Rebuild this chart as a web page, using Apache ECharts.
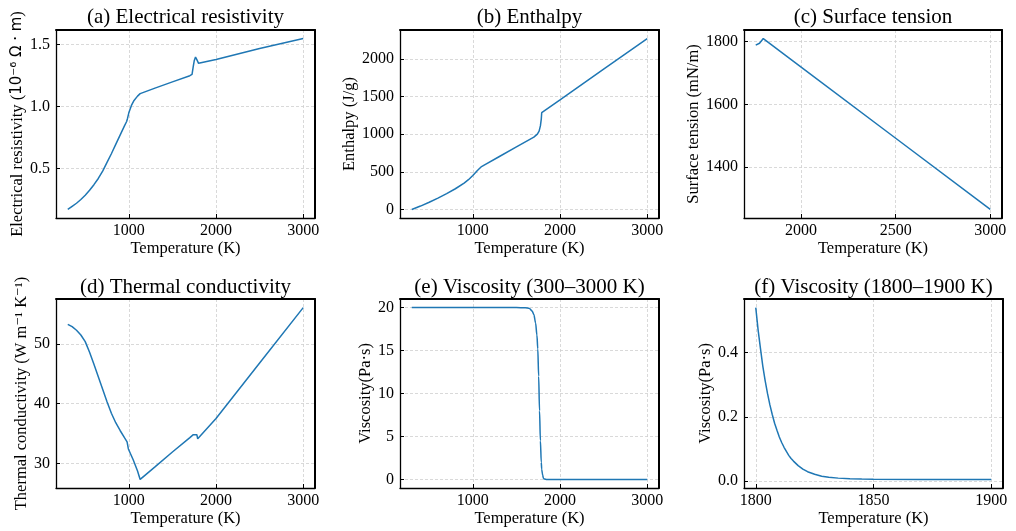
<!DOCTYPE html>
<html><head><meta charset="utf-8">
<script src="https://cdn.jsdelivr.net/npm/echarts@6/dist/echarts.min.js"></script>
<style>html,body{margin:0;padding:0;background:#fff}#c{width:1016px;height:531px}</style>
</head><body><div id="c"></div>
<script>
// (a) Electrical resistivity
const resT = [300,350,400,450,500,550,600,650,700,750,800,850,900,950,975,985,1000,1030,1060,1100,1130,1300,1500,1700,1725,1740,1750,1765,1780,1800,2000,2500,3000];
const resV = [0.17,0.195,0.22,0.25,0.285,0.325,0.37,0.42,0.48,0.55,0.62,0.695,0.77,0.845,0.88,0.905,0.95,1.01,1.05,1.085,1.105,1.15,1.20,1.25,1.26,1.33,1.37,1.40,1.38,1.35,1.38,1.47,1.55];
// (b) Enthalpy
const entT = [300,400,500,600,700,800,900,950,1000,1050,1100,1130,1300,1500,1700,1720,1740,1760,1775,1785,1790,1800,2000,2500,3000];
const entV = [0,45,95,150,210,275,350,395,450,515,570,590,700,830,960,975,1000,1040,1110,1200,1285,1292,1455,1865,2270];
// (c) Surface tension
const stT = [1760,1770,1780,1790,1800,2000,2500,3000];
const stV = [1789,1791,1795,1801,1810,1719,1492,1265];
// (d) Thermal conductivity
const kT = [300,350,400,450,500,550,600,650,700,750,800,850,900,950,980,990,995,1000,1050,1100,1130,1300,1500,1700,1740,1760,1780,1790,1800,1810,2000,2500,3000];
const kV = [53.3,52.9,52.3,51.5,50.4,48.6,46.6,44.5,42.4,40.3,38.4,36.8,35.5,34.3,33.6,33.3,32.4,32.1,30.6,28.7,27.3,29.4,31.9,34.3,34.8,35.0,34.8,34.1,33.8,34.0,37.5,46.8,56.1];
// (e) Viscosity 300-3000 K
const viscT = [300,1000,1500,1600,1650,1680,1700,1720,1735,1745,1755,1765,1775,1785,1790,1800,1810,1820,1850,2000,3000];
const viscV = [20,20,20,19.98,19.9,19.6,19.2,18.2,16.8,15.2,12.0,8.0,4.5,2.0,1.2,0.54,0.13,0.05,0.006,0.005,0.005];
// (f) Viscosity 1800-1900 K
const fT = [1800,1801,1802,1803,1804,1805,1806,1807,1808,1809,1810,1811,1812,1813,1814,1815,1816,1818,1820,1822,1825,1828,1831,1835,1840,1845,1850,1870,1900];
const fV = [0.540,0.470,0.412,0.357,0.312,0.272,0.237,0.207,0.180,0.158,0.137,0.120,0.105,0.092,0.080,0.070,0.062,0.048,0.037,0.029,0.021,0.015,0.012,0.009,0.007,0.006,0.0055,0.005,0.005];

const titles = ['(a) Electrical resistivity','(b) Enthalpy','(c) Surface tension','(d) Thermal conductivity','(e) Viscosity (300\u20133000 K)','(f) Viscosity (1800\u20131900 K)'];
const xTicks = [[1000,2000,3000],[1000,2000,3000],[2000,2500,3000],[1000,2000,3000],[1000,2000,3000],[1800,1850,1900]];
const yTicks = [[0.5,1.0,1.5],[0,500,1000,1500,2000],[1400,1600,1800],[30,40,50],[0,5,10,15,20],[0.0,0.2,0.4]];
const xName = 'Temperature (K)';
const yNames = [
  '{s|Electrical resistivity (}{m|10\u207B\u2076 \u03A9 \u00B7 m}{s|)}',
  'Enthalpy (J/g)',
  'Surface tension (mN/m)',
  'Thermal conductivity (W m\u207B\u00B9 K\u207B\u00B9)',
  'Viscosity(Pa\u00B7s)',
  'Viscosity(Pa\u00B7s)'
];

const series = [[resT,resV],[entT,entV],[stT,stV],[kT,kV],[viscT,viscV],[fT,fV]];
const boxes = [[56,30,259,188],[400,30,259,188],[744,30,258,188],[56,299,259,189],[400,299,259,189],[744,299,259,189]];
const yGaps = [30,42,42,25,25,30];
const yDec = [1,0,0,0,0,1];
const smoothFlags = [false,false,false,false,true,false];
const titleY = [17,17,17,287,287,287];

const SERIF = '"Liberation Serif","DejaVu Serif",serif';
function rng(a){const lo=Math.min(...a),hi=Math.max(...a),d=(hi-lo)*0.05;return [lo-d,hi+d];}

const grid=[],xAxis=[],yAxis=[],ser=[],graphic=[];
for(let i=0;i<6;i++){
  const [L,T,W,H]=boxes[i];
  grid.push({left:L,top:T,width:W,height:H,containLabel:false});
  const xr=rng(series[i][0]), yr=rng(series[i][1]);
  const dec=yDec[i];
  xAxis.push({type:'value',gridIndex:i,min:xr[0],max:xr[1],
    name:xName,nameLocation:'middle',nameGap:21,
    nameTextStyle:{fontFamily:SERIF,fontSize:16.5,color:'#000'},
    axisLine:{show:true,onZero:false,lineStyle:{color:'#000',width:1.3}},
    axisTick:{show:true,inside:true,length:4,customValues:xTicks[i],lineStyle:{color:'#000',width:1}},
    axisLabel:{show:true,customValues:xTicks[i],margin:5,fontFamily:SERIF,fontSize:16,color:'#000',formatter:v=>String(v)},
    splitLine:{show:true,lineStyle:{color:'#cfcfcf',width:0.8,type:[3,2]}}});
  yAxis.push({type:'value',gridIndex:i,min:yr[0],max:yr[1],
    name:yNames[i],nameLocation:'middle',nameGap:yGaps[i],
    nameTextStyle:{fontFamily:SERIF,fontSize:16.5,color:'#000',
      rich:{s:{fontFamily:SERIF,fontSize:16.5,color:'#000'},m:{fontFamily:'"DejaVu Sans",sans-serif',fontSize:15,color:'#000'}}},
    axisLine:{show:true,onZero:false,lineStyle:{color:'#000',width:1.3}},
    axisTick:{show:true,inside:true,length:4,customValues:yTicks[i],lineStyle:{color:'#000',width:1}},
    axisLabel:{show:true,customValues:yTicks[i],margin:6,fontFamily:SERIF,fontSize:16,color:'#000',formatter:v=>v.toFixed(dec)},
    splitLine:{show:true,lineStyle:{color:'#cfcfcf',width:0.8,type:[3,2]}}});
  ser.push({type:'line',xAxisIndex:i,yAxisIndex:i,showSymbol:false,symbol:'none',
    smooth:smoothFlags[i]?0.3:false,smoothMonotone:'x',
    lineStyle:{color:'#1f77b4',width:1.5},
    data:series[i][0].map((t,j)=>[t,series[i][1][j]]),z:5});
  graphic.push({type:'text',x:L+W/2,y:titleY[i],
    style:{text:titles[i],fontFamily:SERIF,fontSize:21,fill:'#000',align:'center',verticalAlign:'middle',textAlign:'center',textVerticalAlign:'middle'}});
}
// top / right spines
for(let i=0;i<6;i++){
  const xr=rng(series[i][0]), yr=rng(series[i][1]);
  xAxis.push({type:'value',gridIndex:i,position:'top',min:xr[0],max:xr[1],
    axisLine:{show:true,onZero:false,lineStyle:{color:'#000',width:2}},
    axisTick:{show:false},axisLabel:{show:false},splitLine:{show:false}});
  yAxis.push({type:'value',gridIndex:i,position:'right',min:yr[0],max:yr[1],
    axisLine:{show:true,onZero:false,lineStyle:{color:'#000',width:2}},
    axisTick:{show:false},axisLabel:{show:false},splitLine:{show:false}});
}

const chart=echarts.init(document.getElementById('c'),null,{renderer:'canvas'});
chart.setOption({backgroundColor:'#fff',animation:false,grid,xAxis,yAxis,series:ser,graphic});
</script></body></html>
